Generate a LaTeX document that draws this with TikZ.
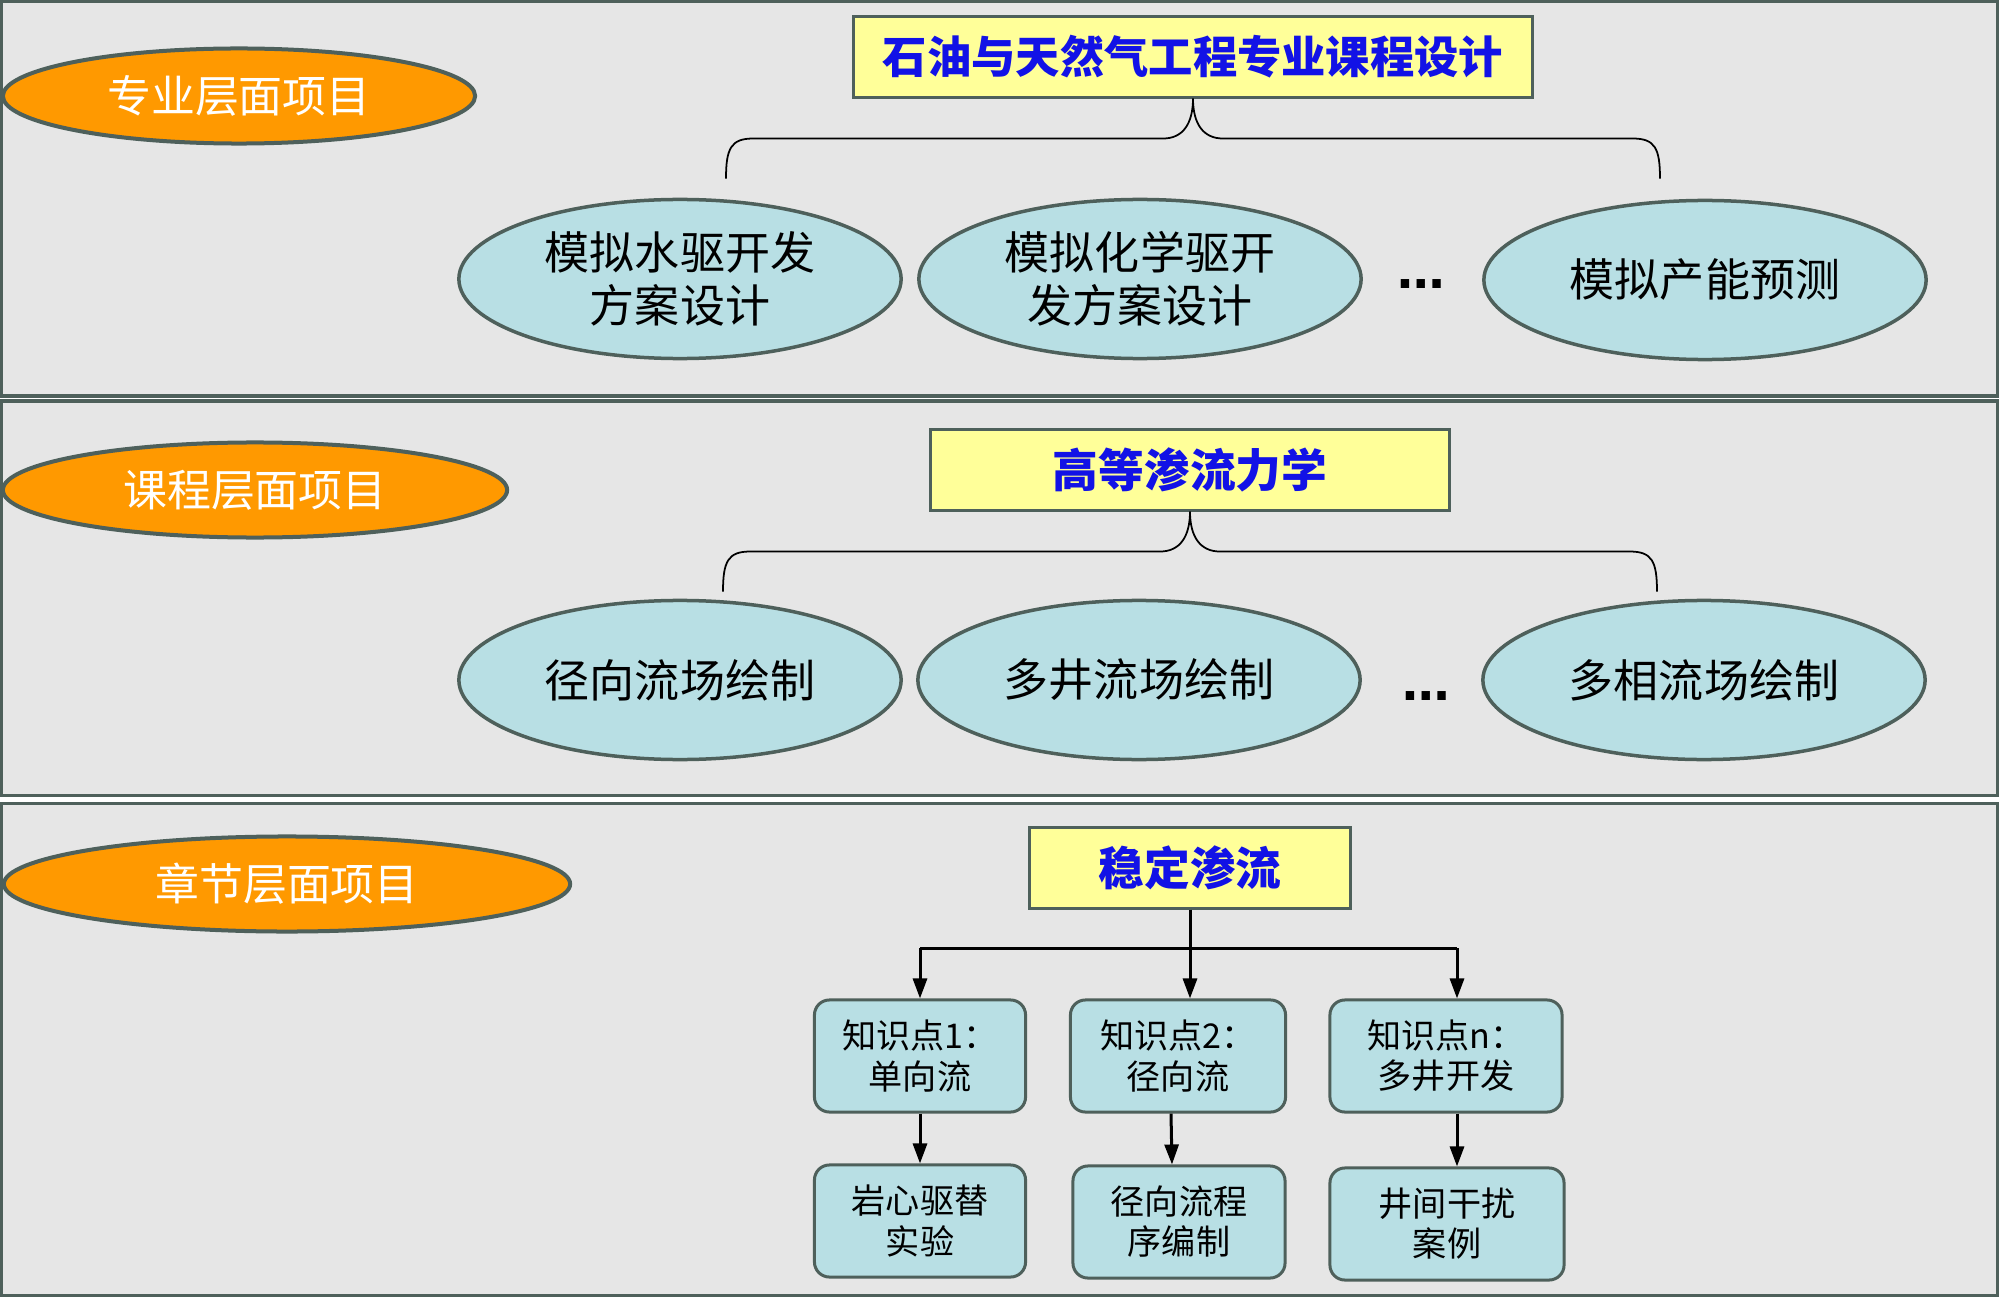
\documentclass[tikz,border=0pt]{standalone}
\usepackage{fontspec}
\setmainfont{Noto Sans CJK SC}
\newfontfamily\dotfont{DejaVu Sans}
\usetikzlibrary{arrows.meta,shapes.geometric,calc}
\definecolor{panelgray}{RGB}{230,230,230}
\definecolor{edgegray}{RGB}{78,96,91}
\definecolor{layerorange}{RGB}{255,153,0}
\definecolor{itemaqua}{RGB}{184,223,228}
\definecolor{topicyellow}{RGB}{255,255,153}
\definecolor{topicblue}{RGB}{18,18,230}
\tikzset{
  panel/.style={draw=edgegray, fill=panelgray, line width=0.03cm},
  layer/.style={ellipse, draw=edgegray, fill=layerorange, line width=0.04cm,
                inner sep=0pt, minimum height=0.95cm, text=white,
                font=\fontsize{12.5}{15}\selectfont},
  topic/.style={rectangle, draw=edgegray, fill=topicyellow, line width=0.03cm,
                minimum height=0.8cm, text=topicblue,
                font=\fontsize{13}{15}\selectfont\bfseries},
  item/.style={ellipse, draw=edgegray, fill=itemaqua, line width=0.035cm,
               inner sep=0pt, minimum width=4.42cm, minimum height=1.59cm,
               align=center, font=\fontsize{12.8}{15}\selectfont},
  point/.style={rectangle, rounded corners=0.15cm, draw=edgegray, fill=itemaqua,
                line width=0.03cm, minimum height=1.12cm, align=center,
                font=\fontsize{9.7}{11.4}\selectfont},
  brace/.style={draw=black, line width=0.5pt},
  arr/.style={-{Triangle[length=0.2cm,width=0.14cm]}, line width=0.03cm},
  dots/.style={anchor=base, font=\dotfont\bfseries\fontsize{13.5}{15}\selectfont},
}
\begin{document}
\begin{tikzpicture}[x=0.01cm, y=-0.01cm]
  \useasboundingbox (0,0) rectangle (1999,1297);
  \fill[white] (0,0) rectangle (1999,1297);

  % three layers
  \draw[panel] (1.5,1.5) rectangle (1997.5,396);
  \draw[panel] (1.5,401) rectangle (1997.5,795);
  \draw[panel] (1.5,803) rectangle (1997.5,1295.5);

  \node[layer, minimum width=4.72cm] (l1) at (239,96) {专业层面项目};
  \node[layer, minimum width=5.04cm] (l2) at (255,490) {课程层面项目};
  \node[layer, minimum width=5.66cm] (l3) at (287,884) {章节层面项目};

  % major level
  \node[topic, minimum width=6.79cm, font=\fontsize{12.6}{15}\selectfont\bfseries] (t1) at (1193,57) {石油与天然气工程专业课程设计};
  \node[item] (i11) at (680,279) {模拟水驱开发\\方案设计};
  \node[item] (i12) at (1140,279) {模拟化学驱开\\发方案设计};
  \node[item] (i13) at (1705,280) {模拟产能预测};
  \node[dots] (more1) at (1421,289) {…};

  % course level
  \node[topic, minimum width=5.19cm] (t2) at (1190,470) {高等渗流力学};
  \node[item] (i21) at (680,680) {径向流场绘制};
  \node[item] (i22) at (1139,680) {多井流场绘制};
  \node[item] (i23) at (1704,680) {多相流场绘制};
  \node[dots] (more2) at (1426,700) {…};

  \foreach \t in {t1,t2} {
    \draw[brace] (\t.south) .. controls +(0,25) and +(20,0) .. ++(-30,40)
      -- ++(-410,0) .. controls +(-22,0) and +(0,-30) .. ++(-27,40);
    \draw[brace] (\t.south) .. controls +(0,25) and +(-20,0) .. ++(30,40)
      -- ++(410,0) .. controls +(22,0) and +(0,-30) .. ++(27,40);
  }

  % chapter level
  \node[topic, minimum width=3.2cm] (t3) at (1190,868) {稳定渗流};
  \node[point, minimum width=2.11cm] (ka) at (920,1056) {知识点1：\\单向流};
  \node[point, minimum width=2.15cm] (kb) at (1178,1056) {知识点2：\\径向流};
  \node[point, minimum width=2.32cm] (kc) at (1446,1056) {知识点n：\\多井开发};
  \node[point, minimum width=2.11cm] (kaa) at (920,1221) {岩心驱替\\实验};
  \node[point, minimum width=2.12cm] (kbb) at (1179,1222) {径向流程\\序编制};
  \node[point, minimum width=2.34cm] (kcc) at (1447,1224) {井间干扰\\案例};

  \coordinate (busl) at (920,948);
  \coordinate (busr) at (1457,948);
  \draw[line width=0.03cm] (busl) -- (busr);
  \draw[arr] (t3.south) -- (t3.south |- kb.north);
  \draw[arr] (busl) -- (busl |- ka.north);
  \draw[arr] (busr) -- (busr |- kc.north);
  \draw[arr] (ka) -- (kaa);
  \draw[arr] ([xshift=-0.07cm]kb.south) -- ([xshift=-0.07cm]kbb.north);
  \draw[arr] (busr |- kc.south) -- (busr |- kcc.north);
\end{tikzpicture}
\end{document}
